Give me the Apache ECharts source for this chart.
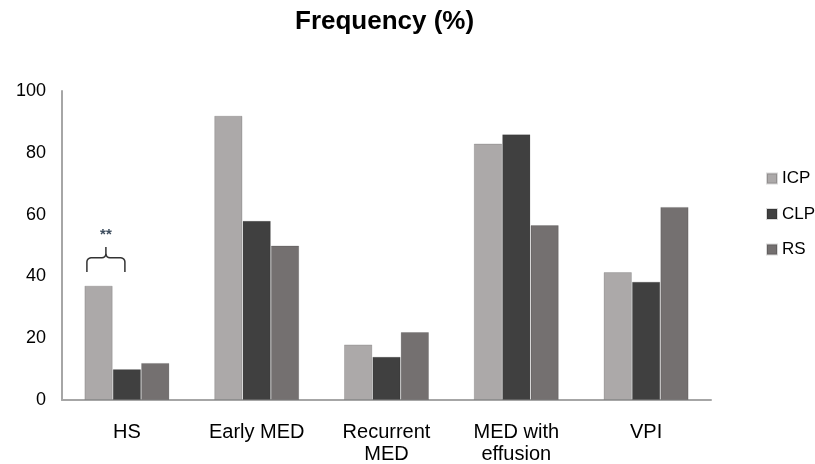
<!DOCTYPE html>
<html><head><meta charset="utf-8">
<script src="https://cdn.jsdelivr.net/npm/echarts@6/dist/echarts.min.js"></script>
<style>html,body{margin:0;padding:0;background:#fff}#c{width:815px;height:464px}</style>
</head><body><div id="c"></div>
<script>
var categories = ['HS', 'Early MED', 'Recurrent\nMED', 'MED with\neffusion', 'VPI'];
var seriesNames = ['ICP', 'CLP', 'RS'];
var icp = [37, 92, 18, 83, 41.4];
var clp = [10, 58, 14, 86, 38.3];
var rs = [12, 50, 22, 56.6, 62.5];
var yTicks = [0, 20, 40, 60, 80, 100];
var colors = ['#aca9a9', '#404040', '#747070'];
var FONT = '"Liberation Sans", Arial, sans-serif';

var chart = echarts.init(document.getElementById('c'));
var data = [icp, clp, rs];
chart.setOption({
  animation: false,
  title: {
    text: 'Frequency (%)', left: 290, top: 4,
    textStyle: {fontFamily: FONT, fontSize: 26, fontWeight: 'bold', color: '#000'}
  },
  legend: {
    orient: 'vertical', left: 761, top: 165, itemWidth: 10, itemHeight: 10,
    itemGap: 18.5, icon: 'rect',
    textStyle: {fontFamily: FONT, fontSize: 17, color: '#000'},
    data: seriesNames
  },
  grid: {left: 62, right: 104, top: 91, bottom: 64, outerBoundsMode: 'none', containLabel: false},
  xAxis: {
    type: 'category', data: categories,
    axisLine: {lineStyle: {color: '#a6a6a6', width: 2}},
    axisTick: {show: false},
    axisLabel: {fontFamily: FONT, fontSize: 20, color: '#000', margin: 21, lineHeight: 22}
  },
  yAxis: {
    type: 'value', min: yTicks[0], max: yTicks[yTicks.length - 1], interval: 20,
    axisLine: {show: true, lineStyle: {color: '#a6a6a6', width: 2}},
    axisTick: {show: false},
    splitLine: {show: false},
    axisLabel: {fontFamily: FONT, fontSize: 18, color: '#000', margin: 16}
  },
  series: seriesNames.map(function (n, i) {
    return {
      name: n, type: 'bar', data: data[i], barGap: '0%', barCategoryGap: '34.5%',
      itemStyle: {color: colors[i], borderColor: 'rgba(0,0,0,0.15)', borderWidth: 1}
    };
  })
});

// significance brace over HS (ICP vs CLP)
function arc(cx, cy, r, a0, a1, pts) {
  for (var k = 0; k <= 4; k++) {
    var a = a0 + (a1 - a0) * k / 4;
    pts.push([cx + r * Math.cos(a), cy + r * Math.sin(a)]);
  }
}
function drawBrace() {
  var c0 = chart.convertToPixel({xAxisIndex: 0, yAxisIndex: 0}, [0, 0]);
  var cx = c0[0];
  var yb = chart.convertToPixel({yAxisIndex: 0}, 41.4);
  var yh = chart.convertToPixel({yAxisIndex: 0}, 46);
  var yt = chart.convertToPixel({yAxisIndex: 0}, 49.5);
  var ya = chart.convertToPixel({yAxisIndex: 0}, 53.5);
  var x1 = cx - 40, x2 = cx - 2, xm = (x1 + x2) / 2, r = 4, P = Math.PI;
  var left = [[x1, yb]];
  arc(x1 + r, yh + r, r, P, 1.5 * P, left);
  arc(xm - r, yh - r, r, 0.5 * P, 0, left);
  left.push([xm, yt]);
  var right = [[x2, yb]];
  arc(x2 - r, yh + r, r, 0, -0.5 * P, right);
  arc(xm + r, yh - r, r, 0.5 * P, P, right);
  chart.setOption({
    graphic: [
      {type: 'polyline', shape: {points: left}, style: {fill: null, stroke: '#333', lineWidth: 1.5}},
      {type: 'polyline', shape: {points: right}, style: {fill: null, stroke: '#333', lineWidth: 1.5}},
      {type: 'text', x: xm, y: ya, style: {text: '**', fontFamily: FONT, fontSize: 15, fontWeight: 'bold', fill: '#3d4d5e', align: 'center', verticalAlign: 'middle'}}
    ]
  });
}
drawBrace();
</script></body></html>
